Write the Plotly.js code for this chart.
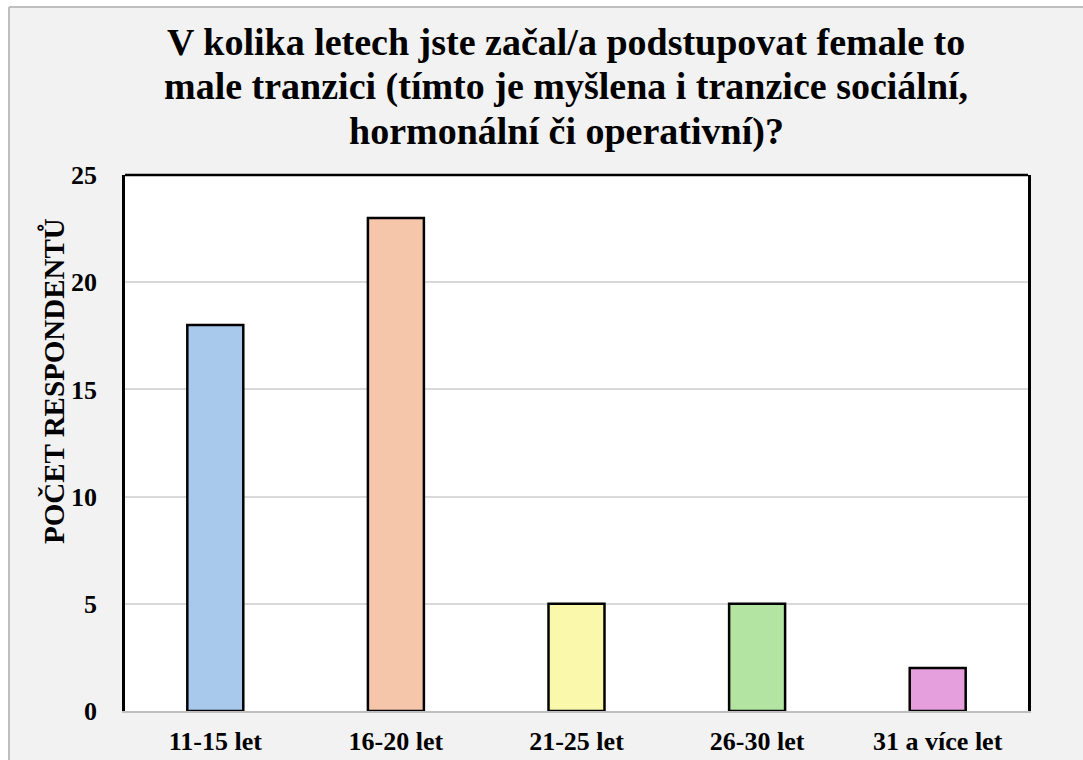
<!DOCTYPE html>
<html>
<head>
<meta charset="utf-8">
<script src="https://cdn.plot.ly/plotly-3.0.1.min.js"></script>
<style>html,body{margin:0;padding:0;background:#fff;}#chart{width:1083px;height:760px;}</style>
</head>
<body>
<div id="chart"></div>
<script>
const categories = ["11-15 let", "16-20 let", "21-25 let", "26-30 let", "31 a více let"];
const values = [18, 23, 5, 5, 2];
const barColors = ["#a8c9ec", "#f5c6aa", "#f9f8ab", "#b4e4a2", "#e49fdc"];
const yTicks = [0, 5, 10, 15, 20, 25];
const titleLines = ["V kolika letech jste začal/a podstupovat female to", "male tranzici (tímto je myšlena i tranzice sociální,", "hormonální či operativní)?"];
const yTitleText = "POČET RESPONDENTŮ";

const serif = "Liberation Serif";
const titleSerif = "Times New Roman, Liberation Serif, DejaVu Serif, serif";
const frameX = (9 - 125) / 903;
const frameY = (711 - 7) / 536;
const titleCenters = [42, 87, 132];

const trace = {
  type: "bar",
  x: categories,
  y: values,
  marker: { color: barColors, line: { color: "#000000", width: 2.5 } },
  hoverinfo: "x+y"
};

const titleAnnotations = titleLines.map((line, i) => ({
  text: line,
  xref: "paper", yref: "paper",
  x: (566 - 125) / 903, y: (711 - titleCenters[i]) / 536,
  xanchor: "center", yanchor: "middle",
  showarrow: false,
  font: { family: titleSerif, size: 38, color: "#000000", weight: "bold" }
}));

const layout = {
  width: 1083,
  height: 760,
  margin: { l: 125, r: 55, t: 175, b: 49 },
  font: { family: serif, color: "#000000" },
  paper_bgcolor: "#f2f2f2",
  plot_bgcolor: "#ffffff",
  bargap: 0.69,
  showlegend: false,
  xaxis: {
    type: "category",
    showline: true,
    linecolor: "#bfbfbf",
    linewidth: 2,
    showgrid: false,
    ticks: "",
    ticklabelstandoff: 6,
    tickfont: { family: serif, size: 26, color: "#000000", weight: 700 },
    fixedrange: true
  },
  yaxis: {
    range: [0, 25],
    tickvals: yTicks,
    showline: true,
    mirror: true,
    linecolor: "#000000",
    linewidth: 2.5,
    showgrid: true,
    gridcolor: "#d9d9d9",
    gridwidth: 1.5,
    zeroline: false,
    ticks: "",
    ticklabelstandoff: 20,
    tickfont: { family: serif, size: 26, color: "#000000", weight: 700 },
    fixedrange: true
  },
  annotations: titleAnnotations.concat([{
    text: yTitleText,
    xref: "paper", yref: "paper",
    x: (53 - 125) / 903, y: (711 - 381) / 536,
    xanchor: "center", yanchor: "middle",
    textangle: -90,
    showarrow: false,
    font: { family: serif, size: 29, color: "#000000", weight: 700 }
  }]),
  shapes: [
    { type: "rect", xref: "paper", yref: "paper", x0: -0.3, x1: 1.2, y0: frameY, y1: 1.6, fillcolor: "#ffffff", line: { width: 0 }, layer: "below" },
    { type: "rect", xref: "paper", yref: "paper", x0: -0.3, x1: frameX, y0: -0.3, y1: 1.6, fillcolor: "#ffffff", line: { width: 0 }, layer: "below" },
    { type: "line", xref: "paper", yref: "paper", x0: frameX, x1: frameX, y0: -0.3, y1: frameY, line: { color: "#bfbfbf", width: 2 } },
    { type: "line", xref: "paper", yref: "paper", x0: frameX, x1: 1.2, y0: frameY, y1: frameY, line: { color: "#bfbfbf", width: 2 } },
    { type: "line", xref: "paper", yref: "paper", x0: 0, x1: 1, y0: 1, y1: 1, line: { color: "#000000", width: 2.5 } }
  ]
};

Plotly.newPlot("chart", [trace], layout, { displayModeBar: false });
</script>
</body>
</html>
